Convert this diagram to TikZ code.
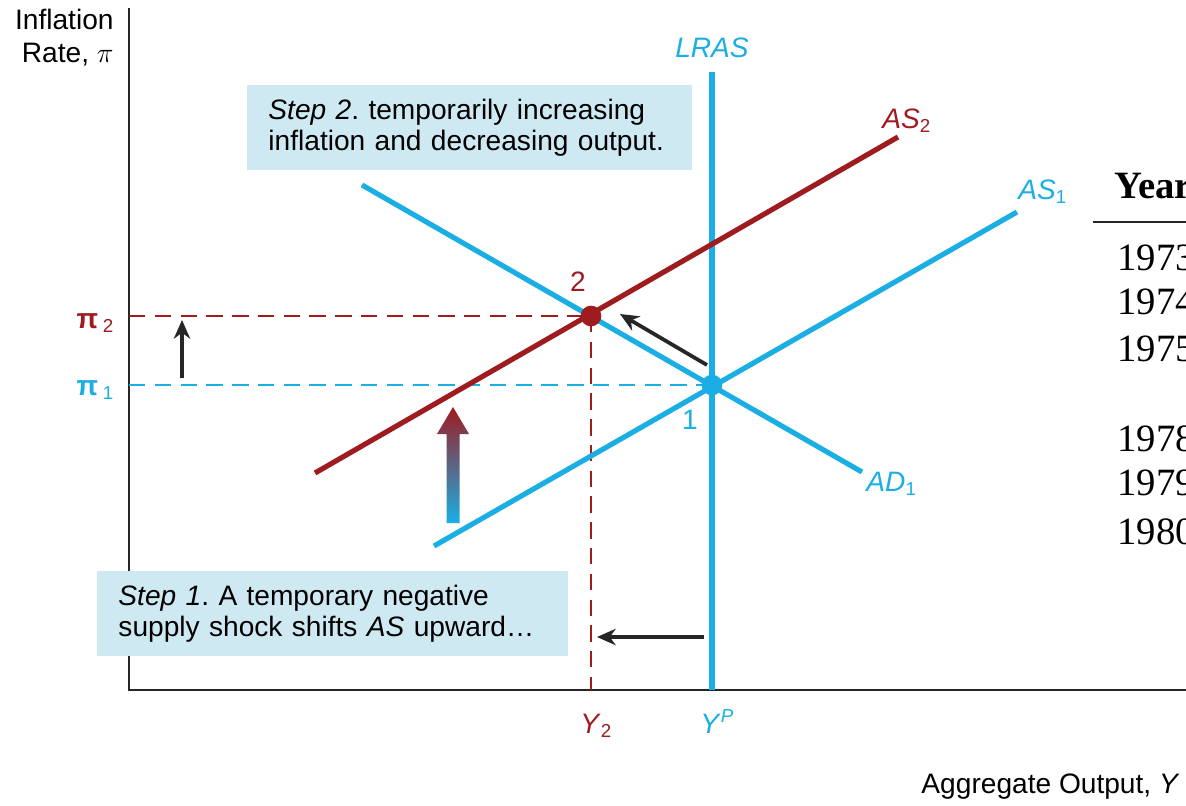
\documentclass[tikz,border=0pt]{standalone}
\usepackage{fontspec}
\setmainfont{Liberation Sans}
\newfontfamily\yearfont{Liberation Serif}
\usetikzlibrary{arrows.meta, positioning, calc}
\definecolor{shockblue}{HTML}{1AAEE5}
\definecolor{shockred}{HTML}{9E1B20}
\definecolor{boxblue}{HTML}{CFE9F3}
\frenchspacing

\begin{document}
\begin{tikzpicture}[
    x=0.015cm, y=-0.015cm,
    axis/.style={line width=1.2pt, black!85},
    curve/.style={line width=2.2pt},
    guide/.style={line width=1.1pt, dash pattern=on 7pt off 4pt},
    lbl/.style={font=\fontsize{12}{14}\selectfont, inner sep=0pt},
    stepbox/.style={fill=boxblue, anchor=north west, align=left, inner sep=0pt,
                    font=\fontsize{12}{13.2}\selectfont, minimum height=1.275cm},
    move/.style={-{Stealth[length=8pt, width=7pt]}, line width=1.6pt, black!85},
    dot/.style={circle, inner sep=0pt, minimum size=0.31cm},
    yearcell/.style={font=\yearfont\fontsize{16.5}{18}\selectfont, anchor=west, inner sep=0pt},
]
    \useasboundingbox (0,0) rectangle (1186,805);

    % Axes
    \coordinate (origin) at (129,690);
    \coordinate (ytop) at (129,8);
    \coordinate (xend) at (1190,690);
    \draw[axis] (ytop) -- (origin) -- (xend);
    \node[lbl, anchor=north east, align=right] (ylabel) at (114,9) {Inflation\\Rate, $\pi$};
    \node[lbl, anchor=base west] (xlabel) at (921,793) {Aggregate Output, \textit{Y}};

    % Equilibrium points
    \coordinate (e1) at (712,385);
    \coordinate (e2) at (591,316);

    % Guide lines
    \draw[guide, shockblue] (129,385) -- (e1);
    \draw[guide, shockred] (129,316) -- (e2);
    \draw[guide, shockred] (e2) -- (591,690);

    % Curves
    \coordinate (lrasTop) at (712,72);
    \coordinate (lrasBot) at (712,690);
    \coordinate (ad1a) at (362,185);
    \coordinate (ad1b) at (862,472);
    \coordinate (as1a) at (434,546);
    \coordinate (as1b) at (1017,212);
    \coordinate (as2a) at (315,473);
    \coordinate (as2b) at (898,137);
    \draw[curve, shockblue] (lrasTop) -- (lrasBot);
    \draw[curve, shockblue] (ad1a) -- (ad1b);
    \draw[curve, shockblue] (as1a) -- (as1b);
    \draw[curve, shockred] (as2a) -- (as2b);

    \node[dot, fill=shockblue] (pt1) at (e1) {};
    \node[dot, fill=shockred] (pt2) at (e2) {};

    % Curve labels
    \node[lbl, text=shockblue, above=0.2cm of lrasTop] (lras) {\textit{LRAS}};
    \node[lbl, text=shockblue, anchor=base west] (ad1) at (866,491) {\textit{AD}\textsubscript{1}};
    \node[lbl, text=shockblue, anchor=base west] (as1) at (1018,199) {\textit{AS}\textsubscript{1}};
    \node[lbl, text=shockred, anchor=base west] (as2) at (882,128) {\textit{AS}\textsubscript{2}};
    \node[lbl, text=shockblue, anchor=base] (n1) at (690,429) {1};
    \node[lbl, text=shockred, anchor=base] (n2) at (578,291) {2};
    \node[lbl, text=shockred, anchor=east] (pi2) at (115,323) {\textbf{π}\,\textsubscript{2}};
    \node[lbl, text=shockblue, anchor=east] (pi1) at (115,390) {\textbf{π}\,\textsubscript{1}};
    \node[lbl, text=shockred, anchor=base west] (y2) at (580,733) {\textit{Y}\textsubscript{2}};
    \node[lbl, text=shockblue, anchor=base west] (yp) at (700,733) {\textit{Y}\textsuperscript{\textit{P}}};

    % Shift arrows
    \coordinate (upTail) at (182,378);
    \coordinate (upTip) at (182,320);
    \coordinate (diagTail) at (707,365);
    \coordinate (diagTip) at (620,314);
    \coordinate (leftTail) at (704,637);
    \coordinate (leftTip) at (597,637);
    \draw[move] (upTail) -- (upTip);
    \draw[move] (diagTail) -- (diagTip);
    \draw[move] (leftTail) -- (leftTip);
    \shade[top color=shockred, bottom color=shockblue]
        (453,407) -- (469,434) -- (459.5,434) -- (459.5,523) -- (446.5,523)
        -- (446.5,434) -- (437,434) -- cycle;

    % Step boxes
    \node[stepbox, minimum width=6.675cm, text width=6.045cm, inner xsep=0.315cm] (step2) at (247,85)
        {\textit{Step 2}. temporarily increasing\\inflation and decreasing output.};
    \node[stepbox, minimum width=7.065cm, text width=6.435cm, inner xsep=0.315cm] (step1) at (97,571)
        {\textit{Step 1}. A temporary negative\\supply shock shifts \textit{AS} upward\dots};

    % Table at the edge
    \node[yearcell, font=\yearfont\bfseries\fontsize{16.5}{18}\selectfont] (yearhead) at (1114,186) {Year};
    \coordinate (ruleL) at (1093,222);
    \coordinate (ruleR) at (1190,222);
    \draw[line width=1.2pt, black!85] (ruleL) -- (ruleR);
    \foreach \yr/\ypos in {1973/258, 1974/302, 1975/349, 1978/439, 1979/483, 1980/532}
        \node[yearcell] (yr\yr) at (1117,\ypos) {\yr};

\end{tikzpicture}
\end{document}
